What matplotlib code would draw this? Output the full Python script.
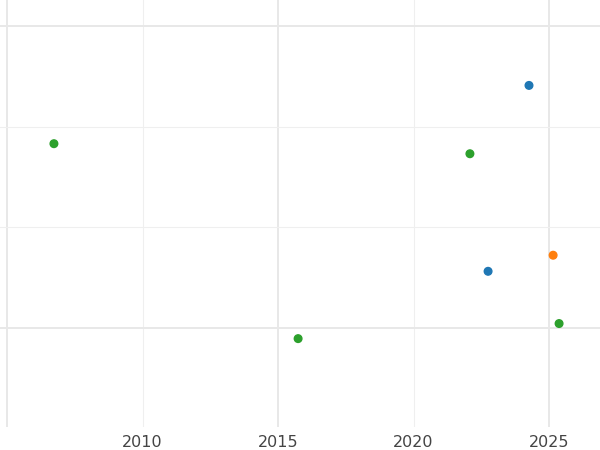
import matplotlib.pyplot as plt
from matplotlib.ticker import MultipleLocator

# point data: year, value, series colour
years = [2024.26, 2022.75, 2025.15, 2006.73, 2022.08, 2025.37, 2015.74]
values = [2.41, 0.56, 0.72, 1.83, 1.73, 0.04, -0.11]
colors = ['#1f77b4', '#1f77b4', '#ff7f0e', '#2ca02c', '#2ca02c', '#2ca02c', '#2ca02c']

fig = plt.figure(figsize=(6, 4.5), dpi=100)
ax = fig.add_axes([0, 0.051, 1, 0.949])

ax.scatter(years, values, c=colors, s=30, zorder=3)

ax.set_xlim(2004.74, 2026.88)
ax.set_ylim(-0.99, 3.26)

ax.yaxis.set_major_locator(MultipleLocator(3))
ax.yaxis.set_minor_locator(MultipleLocator(1))

# show labels on all 5-year ticks
ax.set_xticks([2005, 2015, 2025], minor=False)
ax.set_xticks([2010, 2020], minor=True)
ax.xaxis.set_major_formatter(plt.FixedFormatter(['', '2015', '2025']))
ax.xaxis.set_minor_formatter(plt.FixedFormatter(['2010', '2020']))

ax.grid(which='major', color='#e8e8e8', linewidth=1.4)
ax.grid(which='minor', color='#efefef', linewidth=0.8)

ax.tick_params(axis='x', which='both', length=0, labelsize=11.5, labelcolor='#444444', pad=6)
ax.tick_params(axis='y', which='both', length=0, labelleft=False)

for s in ax.spines.values():
    s.set_visible(False)

fig.savefig('out.png')
